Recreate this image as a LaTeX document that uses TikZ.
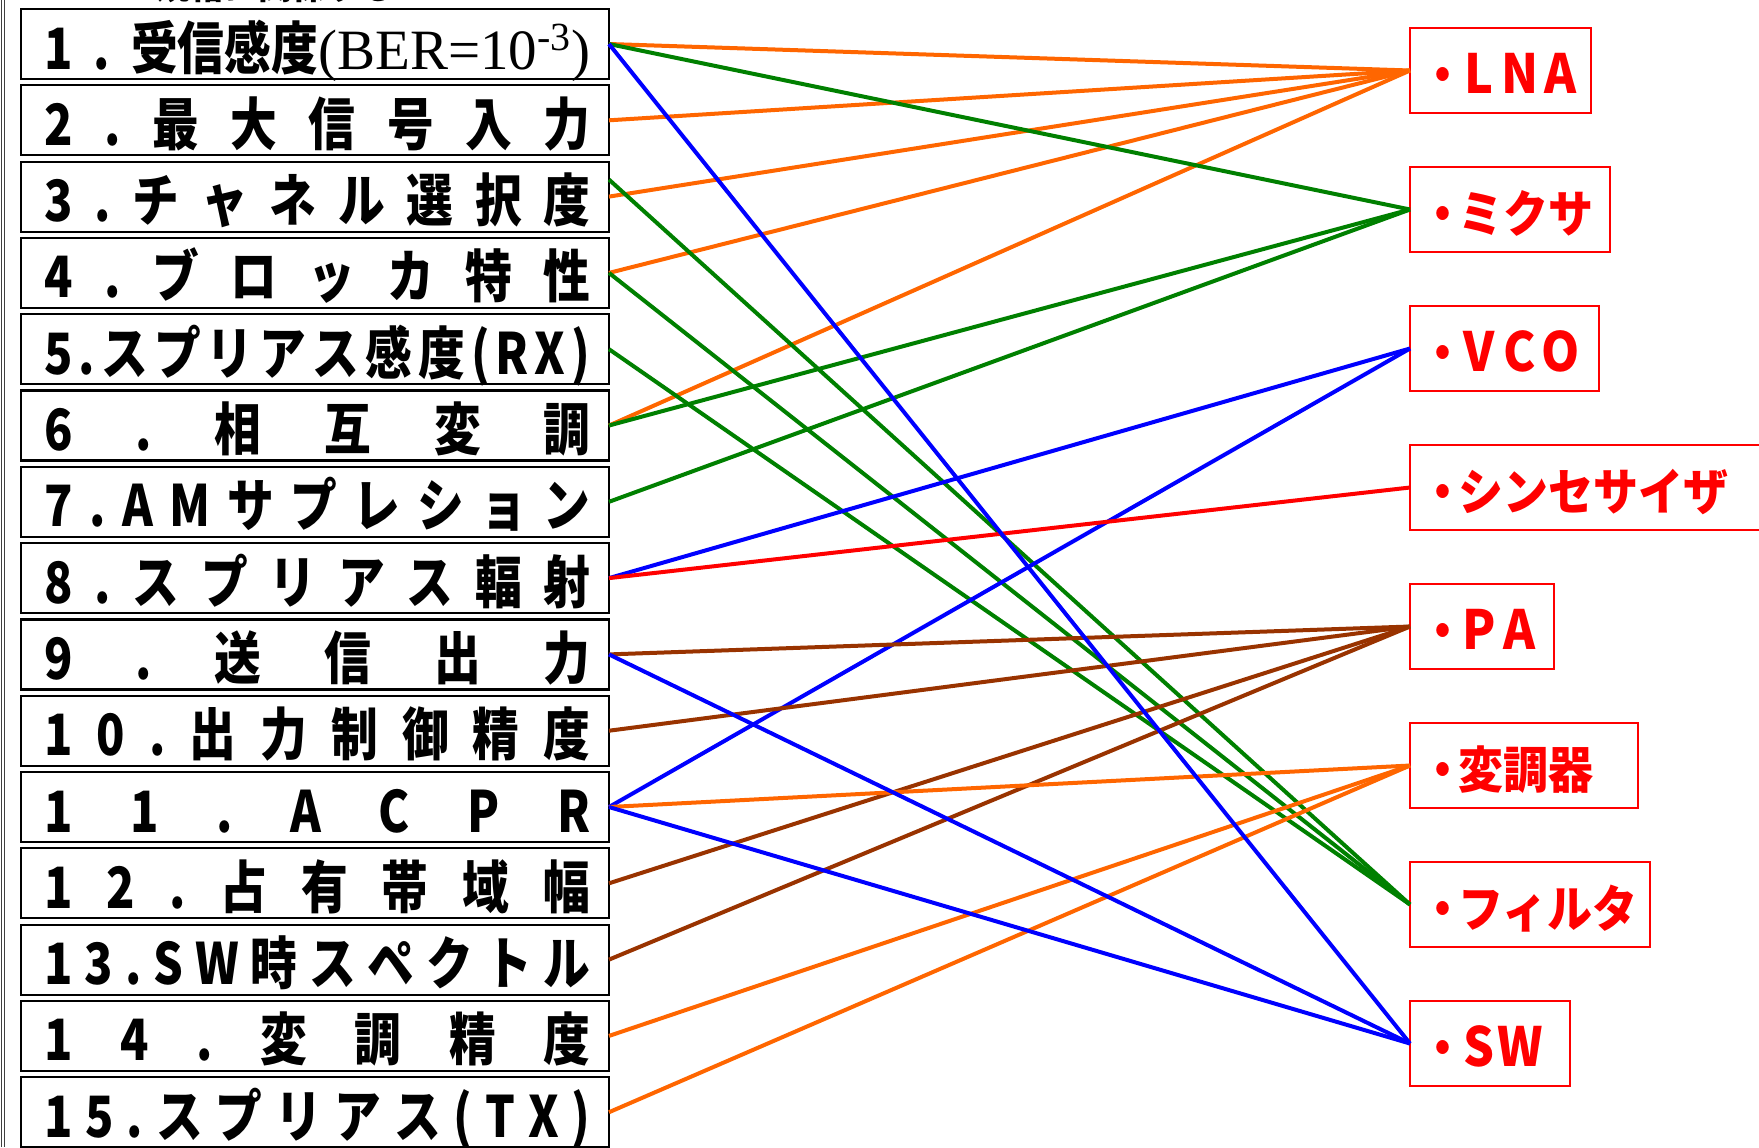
\documentclass[tikz,border=0pt]{standalone}
\usepackage{fontspec}
\newfontfamily\jp[FakeStretch=0.82]{Noto Sans CJK JP}
\newfontfamily\jpr[FakeStretch=0.9]{Noto Sans CJK JP}
\newfontfamily\jph{Noto Sans CJK JP}
\newfontfamily\ser{Liberation Serif}
\newcommand\rl[1]{\makebox[20.5pt]{\fontsize{27}{27}\selectfont #1}}
\definecolor{corange}{HTML}{FF6600}
\definecolor{cgreen}{HTML}{008000}
\definecolor{cblue}{HTML}{0000FF}
\definecolor{cred}{HTML}{FF0000}
\definecolor{cbrown}{HTML}{993300}
\begin{document}
\begin{tikzpicture}[x=0.5pt,y=-0.5pt,
  lbox/.style={draw=black, line width=1.1pt, minimum width=294pt, minimum height=35pt, inner sep=0pt, outer sep=0pt},
  ltxt/.style={anchor=base west, inner sep=0pt, font=\jp\bfseries\fontsize{28.5}{28.5}\selectfont, xshift=11.5pt, yshift=5pt},
  rbox/.style={draw=cred, line width=1pt, minimum height=42.5pt, inner sep=0pt, outer sep=0pt, anchor=west},
  rtxt/.style={anchor=base west, inner sep=0pt, text=cred, font=\jpr\bfseries\fontsize{25}{25}\selectfont, xshift=9pt, yshift=10pt},
  con/.style={line width=2pt}]
\useasboundingbox (0,0) rectangle (1759,1147);
% left frame line
\draw[line width=0.6pt, black!75] (1.5,0) -- (1.5,1147);
\draw[line width=0.6pt, black!75] (4.5,0) -- (4.5,1147);
% cut-off heading
\node[anchor=base west, inner sep=0pt, font=\jph\bfseries\fontsize{17}{17}\selectfont] (head) at (156,-0.5) {規格に関係する};
% left boxes
\node[lbox] (L1) at (315,44) {};
\node[lbox] (L2) at (315,120.3) {};
\node[lbox] (L3) at (315,196.6) {};
\node[lbox] (L4) at (315,272.9) {};
\node[lbox] (L5) at (315,349.2) {};
\node[lbox] (L6) at (315,425.5) {};
\node[lbox] (L7) at (315,501.8) {};
\node[lbox] (L8) at (315,578.1) {};
\node[lbox] (L9) at (315,654.4) {};
\node[lbox] (L10) at (315,730.7) {};
\node[lbox] (L11) at (315,807) {};
\node[lbox] (L12) at (315,883.3) {};
\node[lbox] (L13) at (315,959.6) {};
\node[lbox] (L14) at (315,1035.9) {};
\node[lbox] (L15) at (315,1112.2) {};
% left texts
\node[ltxt] (T1) at (L1.south west) {\makebox[273pt][s]{1\hfill .\hfill 受信感度{\ser\mdseries(BER=10\textsuperscript{-3})}}};
\node[ltxt] (T2) at (L2.south west) {\makebox[273pt][s]{2\hfill .\hfill 最\hfill 大\hfill 信\hfill 号\hfill 入\hfill 力}};
\node[ltxt] (T3) at (L3.south west) {\makebox[273pt][s]{3\hfill .\hfill チ\hfill ャ\hfill ネ\hfill ル\hfill 選\hfill 択\hfill 度}};
\node[ltxt] (T4) at (L4.south west) {\makebox[273pt][s]{4\hfill .\hfill ブ\hfill ロ\hfill ッ\hfill カ\hfill 特\hfill 性}};
\node[ltxt] (T5) at (L5.south west) {\makebox[273pt][s]{5\hfill .\hfill ス\hfill プ\hfill リ\hfill ア\hfill ス\hfill 感\hfill 度\hfill (\hfill R\hfill X\hfill )}};
\node[ltxt] (T6) at (L6.south west) {\makebox[273pt][s]{6\hfill .\hfill 相\hfill 互\hfill 変\hfill 調}};
\node[ltxt] (T7) at (L7.south west) {\makebox[273pt][s]{7\hfill .\hfill A\hfill M\hfill サ\hfill プ\hfill レ\hfill シ\hfill ョ\hfill ン}};
\node[ltxt] (T8) at (L8.south west) {\makebox[273pt][s]{8\hfill .\hfill ス\hfill プ\hfill リ\hfill ア\hfill ス\hfill 輻\hfill 射}};
\node[ltxt] (T9) at (L9.south west) {\makebox[273pt][s]{9\hfill .\hfill 送\hfill 信\hfill 出\hfill 力}};
\node[ltxt] (T10) at (L10.south west) {\makebox[273pt][s]{1\hfill 0\hfill .\hfill 出\hfill 力\hfill 制\hfill 御\hfill 精\hfill 度}};
\node[ltxt] (T11) at (L11.south west) {\makebox[273pt][s]{1\hfill 1\hfill .\hfill A\hfill C\hfill P\hfill R}};
\node[ltxt] (T12) at (L12.south west) {\makebox[273pt][s]{1\hfill 2\hfill .\hfill 占\hfill 有\hfill 帯\hfill 域\hfill 幅}};
\node[ltxt] (T13) at (L13.south west) {\makebox[273pt][s]{1\hfill 3\hfill .\hfill S\hfill W\hfill 時\hfill ス\hfill ペ\hfill ク\hfill ト\hfill ル}};
\node[ltxt] (T14) at (L14.south west) {\makebox[273pt][s]{1\hfill 4\hfill .\hfill 変\hfill 調\hfill 精\hfill 度}};
\node[ltxt] (T15) at (L15.south west) {\makebox[273pt][s]{1\hfill 5\hfill .\hfill ス\hfill プ\hfill リ\hfill ア\hfill ス\hfill (\hfill T\hfill X\hfill )}};
% right boxes
\node[rbox, minimum width=90.5pt] (R1) at (1410,70.5) {};
\node[rbox, minimum width=100pt] (R2) at (1410,209.5) {};
\node[rbox, minimum width=94.5pt] (R3) at (1410,348.5) {};
\node[rbox, minimum width=185pt] (R4) at (1410,487.5) {};
\node[rbox, minimum width=72pt] (R5) at (1410,626.5) {};
\node[rbox, minimum width=114pt] (R6) at (1410,765.5) {};
\node[rbox, minimum width=120pt] (R7) at (1410,904.5) {};
\node[rbox, minimum width=80pt] (R8) at (1410,1043.5) {};
% right texts
\node[rtxt] (S1) at (R1.south west) {\makebox[15pt]{・}\rl{L}\rl{N}\rl{A}};
\node[rtxt] (S2) at (R2.south west) {\makebox[15pt]{・}ミクサ};
\node[rtxt] (S3) at (R3.south west) {\makebox[15pt]{・}\rl{V}\rl{C}\rl{O}};
\node[rtxt] (S4) at (R4.south west) {\makebox[15pt]{・}シンセサイザ};
\node[rtxt] (S5) at (R5.south west) {\makebox[15pt]{・}\rl{P}\rl{A}};
\node[rtxt] (S6) at (R6.south west) {\makebox[15pt]{・}変調器};
\node[rtxt] (S7) at (R7.south west) {\makebox[15pt]{・}フィルタ};
\node[rtxt] (S8) at (R8.south west) {\makebox[15pt]{・}\rl{S}\rl{W}};
% connectors
\draw[con, corange] (L1.east) -- (R1.west);
\draw[con, corange] (L2.east) -- (R1.west);
\draw[con, corange] (L3.east) -- (R1.west);
\draw[con, corange] (L4.east) -- (R1.west);
\draw[con, corange] (L6.east) -- (R1.west);
\draw[con, cgreen] (L1.east) -- (R2.west);
\draw[con, cgreen] (L6.east) -- (R2.west);
\draw[con, cgreen] (L7.east) -- (R2.west);
\draw[con, cgreen] ([yshift=8.5pt]L3.east) -- (R7.west);
\draw[con, cgreen] (L4.east) -- (R7.west);
\draw[con, cgreen] (L5.east) -- (R7.west);
\draw[con, cblue] (L8.east) -- (R3.west);
\draw[con, cblue] (L11.east) -- (R3.west);
\draw[con, cred] (L8.east) -- (R4.west);
\draw[con, cbrown] (L9.east) -- (R5.west);
\draw[con, cbrown] (L10.east) -- (R5.west);
\draw[con, cbrown] (L12.east) -- (R5.west);
\draw[con, cbrown] (L13.east) -- (R5.west);
\draw[con, corange] (L11.east) -- (R6.west);
\draw[con, corange] (L14.east) -- (R6.west);
\draw[con, corange] (L15.east) -- (R6.west);
\draw[con, cblue] (L1.east) -- (R8.west);
\draw[con, cblue] (L9.east) -- (R8.west);
\draw[con, cblue] (L11.east) -- (R8.west);
\end{tikzpicture}
\end{document}
